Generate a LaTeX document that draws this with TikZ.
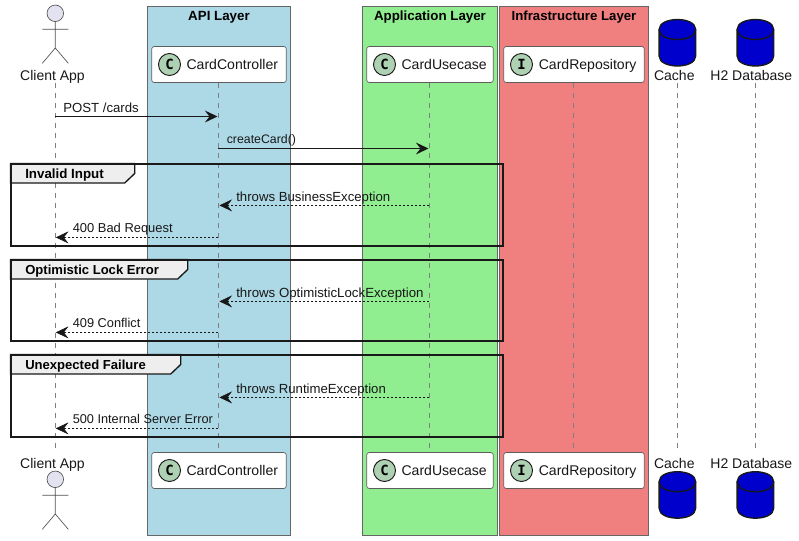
\documentclass[tikz,border=0pt]{standalone}
\usepackage{fontspec}
\setmainfont{Liberation Sans}
\newfontfamily\badgefont{DejaVu Sans Mono}
\usetikzlibrary{arrows.meta,shapes.geometric}
\definecolor{apibg}{HTML}{ADD8E6}
\definecolor{appbg}{HTML}{90EE90}
\definecolor{infrabg}{HTML}{F08080}
\definecolor{boxln}{HTML}{666666}
\definecolor{llcol}{HTML}{7F7F7F}
\definecolor{badge}{HTML}{ADD1B2}
\definecolor{actorf}{HTML}{E2E2F0}
\definecolor{dbblue}{HTML}{0000CD}
\definecolor{tabf}{HTML}{EEEEEE}
\definecolor{ink}{HTML}{181818}
\tikzset{
  x=0.75pt,y=-0.75pt,
  layerbox/.style={draw=boxln,line width=0.75pt},
  layertitle/.style={font=\bfseries\fontsize{#1}{12}\selectfont,inner sep=0,text=black,anchor=base},
  layertitle/.default=10,
  partbox/.style={draw=ink!70,fill=white,rounded corners=1.9pt,line width=0.5pt,minimum width=#1*0.75pt,minimum height=27pt,inner sep=0},
  partlabel/.style={font=\fontsize{10.5}{12}\selectfont,inner sep=0,text=ink,anchor=base},
  partname/.style={font=\fontsize{10.55}{12}\selectfont,inner sep=0,text=ink,anchor=base west},
  lifeline/.style={draw=llcol,line width=0.5pt,dash pattern=on 3.75pt off 3.75pt},
  msg/.style={draw=ink,line width=0.8pt,-{Stealth[length=9.5pt,width=9pt,inset=3.5pt]}},
  reply/.style={draw=ink,line width=0.6pt,dash pattern=on 1.6pt off 1.4pt,-{Stealth[length=9.5pt,width=9pt,inset=3.5pt,line width=0.4pt]}},
  msglabel/.style={font=\fontsize{#1}{11}\selectfont,inner sep=0,text=ink,anchor=base west},
  frameln/.style={draw=black!90,line width=1.5pt},
  grouptab/.style={draw=black!90,fill=tabf,line width=1pt},
  grouplabel/.style={font=\bfseries\fontsize{#1}{12}\selectfont,inner sep=0,anchor=base west,text=black},
  badgec/.style={circle,draw=ink,fill=badge,line width=0.7pt,minimum size=16.5pt,inner sep=0,font=\badgefont\bfseries\fontsize{10.5}{12}\selectfont},
  actorln/.style={draw=ink!75,line width=0.5pt},
  dbbody/.style={draw=ink,fill=dbblue,line width=1pt},
}
\newcommand{\dbshape}[2]{% cx, top y
  \path[dbbody] (#1-18.3,#2+10) .. controls (#1-18.3,#2-3.3) and (#1+18.3,#2-3.3) .. (#1+18.3,#2+10)
     -- (#1+18.3,#2+36.5) .. controls (#1+18.3,#2+49.8) and (#1-18.3,#2+49.8) .. (#1-18.3,#2+36.5) -- cycle;
  \draw[dbbody,fill=none] (#1-18.3,#2+10) .. controls (#1-18.3,#2+23.3) and (#1+18.3,#2+23.3) .. (#1+18.3,#2+10);
}
\newcommand{\actorshape}[2]{% cx, head-top y
  \node[circle,draw=ink!75,fill=actorf,line width=0.5pt,minimum size=12.4pt,inner sep=0] at (#1,#2+8.3) {};
  \draw[actorln] (#1,#2+16.5) -- (#1,#2+43) (#1-13,#2+24.3) -- (#1+13,#2+24.3)
     (#1-13,#2+58.3) -- (#1,#2+43) -- (#1+13,#2+58.3);
}
\newcommand{\grp}[6]{% top, bottom, tab right x, title, name, font size
  \path[grouptab] (10.5,#1) -- (#3,#1) -- (#3,#1+10) -- (#3-10,#1+19.5) -- (10.5,#1+19.5) -- cycle;
  \path[frameln] (10.5,#1) rectangle (503,#2);
  \node[grouplabel=#6] (#5) at (25,#1+14.5) {#4};
}
\begin{document}
\begin{tikzpicture}
\useasboundingbox (0,0) rectangle (799,540);
\fill[white] (0,0) rectangle (799,540);
% layers
\path[layerbox,fill=apibg] (147.5,6.5) rectangle (290.5,535);
\path[layerbox,fill=appbg] (362.5,6.5) rectangle (497.7,535);
\path[layerbox,fill=infrabg] (499.4,6.5) rectangle (648.4,535);
\node[layertitle] (tapi) at (219,20) {API Layer};
\node[layertitle] (tapp) at (430,20) {Application Layer};
\node[layertitle=9.9] (tinf) at (574,20) {Infrastructure Layer};
% lifeline ends
\coordinate (a0) at (55.3,83); \coordinate (a1) at (55.3,448);
\coordinate (b0) at (218.4,83); \coordinate (b1) at (218.4,448);
\coordinate (c0) at (429.4,83); \coordinate (c1) at (429.4,448);
\coordinate (d0) at (573.4,83); \coordinate (d1) at (573.4,448);
\coordinate (e0) at (677.4,83); \coordinate (e1) at (677.4,448);
\coordinate (f0) at (755.4,83); \coordinate (f1) at (755.4,448);
\foreach \p in {a,b,c,d,e,f} \draw[lifeline] (\p0) -- (\p1);
% participants
\foreach \ya/\s in {64.5/t,470.5/u}{
  \node[partbox=134.6] (ctl\s) at (219,\ya) {};
  \node[partbox=126.6] (uc\s) at (430,\ya) {};
  \node[partbox=140.6] (rep\s) at (574,\ya) {};
  \node[badgec] (bc\s) at (169.5,\ya) {C};
  \node[badgec] (bu\s) at (384.5,\ya) {C};
  \node[badgec] (br\s) at (521.5,\ya) {I};
  \node[partname] (lc\s) at (186.3,\ya+5) {CardController};
  \node[partname] (lu\s) at (401.3,\ya+5) {CardUsecase};
  \node[partname] (lr\s) at (538.5,\ya+5) {CardRepository};
}
% actors, dbs
\actorshape{55.3}{5}
\actorshape{55.3}{471}
\node[partlabel] (cat) at (52.5,80) {Client App};
\node[partlabel] (cab) at (52.5,468) {Client App};
\dbshape{677.4}{19.5}
\dbshape{755.4}{19.5}
\dbshape{677.4}{471.7}
\dbshape{755.4}{471.7}
\node[partlabel] (cht) at (674.3,80) {Cache};
\node[partlabel] (h2t) at (751.3,80) {H2 Database};
\node[partlabel] (chb) at (674.3,468) {Cache};
\node[partlabel] (h2b) at (751.3,468) {H2 Database};
% messages
\coordinate (m1a) at (55.3,116.5); \coordinate (m1b) at (217.5,116.5);
\coordinate (m2a) at (218.4,148.5); \coordinate (m2b) at (428.5,148.5);
\draw[msg] (m1a) -- (m1b);
\draw[msg] (m2a) -- (m2b);
\node[msglabel=9.9] (l1) at (63,112) {POST /cards};
\node[msglabel=9.25] (l2) at (226.5,143.5) {createCard()};
% groups
\grp{163.5}{245.5}{134.7}{Invalid Input}{g1}{10}
\grp{259.5}{340.5}{187.7}{Optimistic Lock Error}{g2}{9.8}
\grp{354.5}{436.5}{180.7}{Unexpected Failure}{g3}{9.8}
% replies
\foreach \ya/\yb/\ta/\tb/\sa/\sb/\n in {
  205.4/237.4/throws BusinessException/400 Bad Request/9.9/9.7/1,
  301.4/332.4/throws OptimisticLockException/409 Conflict/9.95/9.6/2,
  397.4/428.4/throws RuntimeException/500 Internal Server Error/9.9/9.55/3}{
  \coordinate (r\n a) at (429.4,\ya); \coordinate (r\n b) at (219.4,\ya);
  \coordinate (s\n a) at (218.4,\yb); \coordinate (s\n b) at (55.8,\yb);
  \draw[reply] (r\n a) -- (r\n b);
  \draw[reply] (s\n a) -- (s\n b);
  \node[msglabel=\sa] (rl\n) at (236,\ya-3.5) {\ta};
  \node[msglabel=\sb] (sl\n) at (72.5,\yb-5) {\tb};
}
\end{tikzpicture}
\end{document}
